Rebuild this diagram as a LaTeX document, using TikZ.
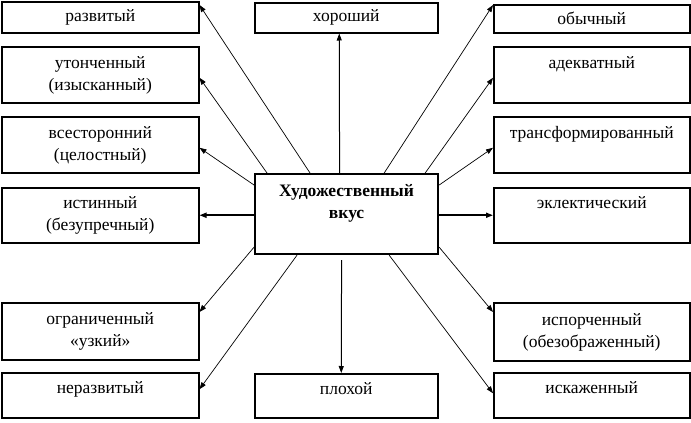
\documentclass[tikz,border=0pt]{standalone}
\usepackage{fontspec}
\setmainfont{Liberation Serif}
\usetikzlibrary{arrows.meta,calc}
\tikzset{
 box/.style={draw, line width=1.5pt, inner sep=0pt, anchor=north west, align=center, font=\fontsize{17.5}{22}\selectfont},
 lowbox/.style={draw, line width=1.5pt, inner sep=0pt, anchor=north west, text height=15.4pt, text depth=18pt, font=\fontsize{17.5}{22}\selectfont},
 mainbox/.style={box, line width=2.2pt, font=\fontsize{17.5}{22}\selectfont\bfseries},
 arr/.style={-{Triangle[length=7pt,width=5pt]}, line width=0.7pt},
 thickarr/.style={arr, line width=1.6pt},
}
\begin{document}
\begin{tikzpicture}[x=1pt,y=-1pt]
\useasboundingbox (0,0) rectangle (691,423);
% left column
\node[box, minimum width=197pt, minimum height=31pt] (razv) at (1,1) {развитый};
\node[box, minimum width=197pt, minimum height=56pt] (uton) at (1,46) {\strut утонченный\\\strut(изысканный)};
\node[box, minimum width=197pt, minimum height=56pt] (vses) at (1,116) {\strut всесторонний\\\strut(целостный)};
\node[box, minimum width=197pt, minimum height=55pt] (ist) at (1,187) {\strut истинный\\\strut(безупречный)};
\node[box, minimum width=197pt, minimum height=57pt] (ogr) at (1,302) {\strut ограниченный\\\strut«узкий»};
\node[lowbox, minimum width=197pt, minimum height=45pt] (nerazv) at (1,372) {неразвитый};
% middle column
\node[box, minimum width=183pt, minimum height=30pt] (khor) at (254,2) {хороший};
\node[mainbox, minimum width=183pt, minimum height=80pt] (main) at (254,173) {\strut Художественный\\\strut вкус\\\strut};
\node[lowbox, minimum width=183pt, minimum height=44pt] (plokh) at (254,373) {плохой};
% right column
\node[box, minimum width=196pt, minimum height=28pt] (obych) at (493,4) {обычный};
\node[box, minimum width=196pt, minimum height=56pt] (adek) at (493,46) {\strut адекватный\\\strut};
\node[box, minimum width=196pt, minimum height=56pt] (trans) at (493,116) {\strut трансформированный\\\strut};
\node[box, minimum width=196pt, minimum height=55pt] (ekl) at (493,187) {\strut эклектический\\\strut};
\node[box, minimum width=196pt, minimum height=58pt] (isp) at (493,302) {\strut испорченный\\\strut(обезображенный)};
\node[lowbox, minimum width=196pt, minimum height=45pt] (iskazh) at (493,372) {искаженный};
% arrows left
\draw[arr] ([xshift=56pt]main.north west) -- ([yshift=-4pt]razv.north east);
\draw[arr] ([xshift=13pt]main.north west) -- ([yshift=-3pt]uton.east);
\draw[arr] ([yshift=-12pt]main.north west) -- ([yshift=-3pt]vses.east);
\draw[thickarr] (main.west |- ist.east) -- (ist.east);
\draw[arr] ([yshift=8pt]main.south west) -- ([yshift=-10pt]ogr.north east);
\draw[arr] ([xshift=43pt]main.south west) -- ([yshift=6pt]nerazv.east);
% arrows middle
\draw[arr, line width=1pt] ([xshift=-7pt]main.north) -- ([xshift=-7pt]khor.south);
\draw[arr, line width=1pt] ([xshift=-5pt,yshift=-5pt]main.south) -- ([xshift=-5pt]plokh.north);
% arrows right
\draw[arr] ([xshift=-55pt]main.north east) -- ([yshift=-1pt]obych.north west);
\draw[arr] ([xshift=-14pt]main.north east) -- ([yshift=-3pt]adek.west);
\draw[arr] ([yshift=-12pt]main.north east) -- ([yshift=-3pt]trans.west);
\draw[thickarr] (main.east |- ekl.west) -- (ekl.west);
\draw[arr] ([yshift=8pt]main.south east) -- ([yshift=-10pt]isp.north west);
\draw[arr] ([xshift=-50pt]main.south east) -- ([yshift=2pt]iskazh.west);
\end{tikzpicture}
\end{document}
